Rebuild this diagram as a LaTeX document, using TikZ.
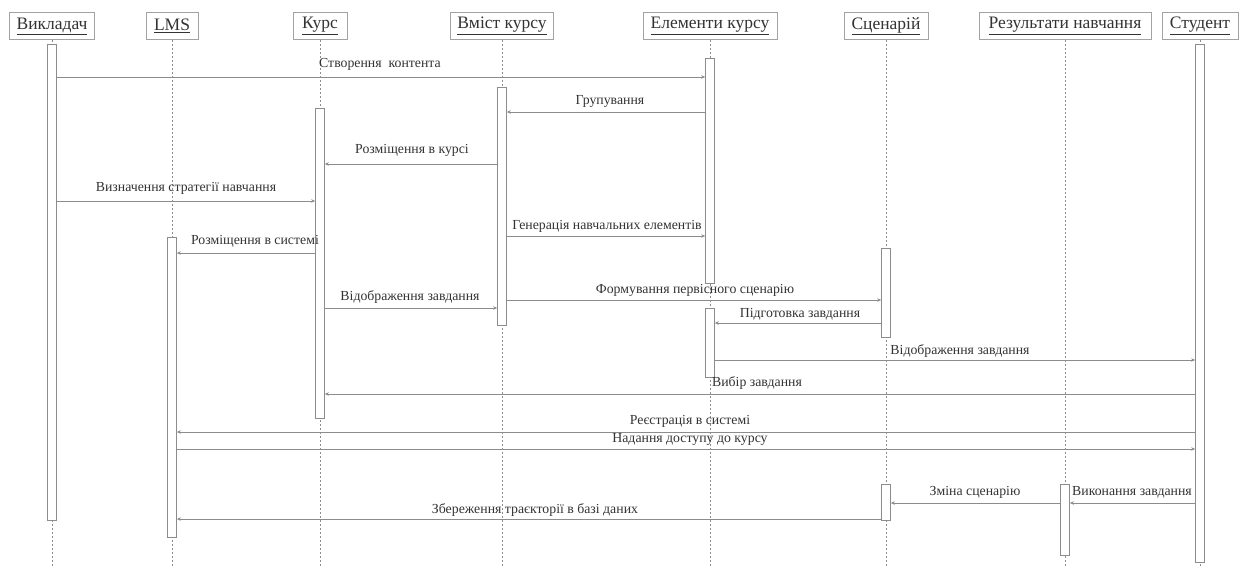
\documentclass[tikz,border=0pt]{standalone}
\usepackage{fontspec}
\setmainfont{Liberation Serif}
\usetikzlibrary{arrows.meta}
\definecolor{lncol}{HTML}{8C8C8C}
\definecolor{txcol}{HTML}{333333}
\tikzset{
  hdr/.style={draw=lncol!80, line width=0.6pt, inner xsep=3pt, minimum height=27pt, font=\fontsize{17.5}{19}\selectfont, text=txcol},
  life/.style={draw=lncol, dash pattern=on 2pt off 2pt, line width=0.5pt},
  actbox/.style={draw=lncol, fill=white, line width=0.7pt, minimum width=9pt, inner sep=0pt},
  msg/.style={draw=lncol, line width=0.8pt, -{Stealth[length=4pt,width=3.5pt]}},
  lbl/.style={font=\fontsize{13.8}{15}\selectfont, text=txcol, inner sep=1pt}
}
\begin{document}
\begin{tikzpicture}[x=1pt,y=-1pt]
\useasboundingbox[fill=white] (0,0) rectangle (1240,566);
% headers
\node[hdr, minimum width=85pt] (hvk) at (52,26) {\underline{Викладач}};
\node[hdr, minimum width=52pt] (hlms) at (172,26) {\underline{LMS}};
\node[hdr, minimum width=54pt] (hku) at (320,26) {\underline{Курс}};
\node[hdr, minimum width=103pt] (hvm) at (502,26) {\underline{Вміст курсу}};
\node[hdr, minimum width=134pt] (hel) at (710,26) {\underline{Елементи курсу}};
\node[hdr, minimum width=84pt] (hsc) at (886,26) {\underline{Сценарій}};
\node[hdr, minimum width=172pt] (hrn) at (1065,26) {\underline{Результати навчання}};
\node[hdr, minimum width=76pt] (hst) at (1200,26) {\underline{Студент}};
% lifeline ends
\coordinate (evk) at (52,566);
\coordinate (elms) at (172,566);
\coordinate (eku) at (320,566);
\coordinate (evm) at (502,566);
\coordinate (eel) at (710,566);
\coordinate (esc) at (886,566);
\coordinate (ern) at (1065,566);
\coordinate (est) at (1200,566);
\draw[life] (hvk.south) -- (evk);
\draw[life] (hlms.south) -- (elms);
\draw[life] (hku.south) -- (eku);
\draw[life] (hvm.south) -- (evm);
\draw[life] (hel.south) -- (eel);
\draw[life] (hsc.south) -- (esc);
\draw[life] (hrn.south) -- (ern);
\draw[life] (hst.south) -- (est);
% activation bars
\node[actbox, minimum height=476pt] (vkA) at (52,282) {};
\node[actbox, minimum height=300pt] (lmsA) at (172,387) {};
\node[actbox, minimum height=310pt] (kuA) at (320,263) {};
\node[actbox, minimum height=238pt] (vmA) at (502,206) {};
\node[actbox, minimum height=225pt] (elA) at (710,170.5) {};
\node[actbox, minimum height=69pt] (elB) at (710,342.5) {};
\node[actbox, minimum height=89pt] (scA) at (886,292.5) {};
\node[actbox, minimum height=36pt] (scB) at (886,502) {};
\node[actbox, minimum height=71pt] (rnA) at (1065,519.5) {};
\node[actbox, minimum height=518pt] (stA) at (1200,303) {};
% messages
\draw[msg] (vkA.east |- 0,77) -- (elA.west |- 0,77);
\node[lbl] (l1) at (380,64) {Створення\ \ контента};
\draw[msg] (elA.west |- 0,112) -- (vmA.east |- 0,112);
\node[lbl] (l2) at (610,101) {Групування};
\draw[msg] (vmA.west |- 0,164) -- (kuA.east |- 0,164);
\node[lbl] (l3) at (412,150) {Розміщення в курсі};
\draw[msg] (vkA.east |- 0,201) -- (kuA.west |- 0,201);
\node[lbl] (l4) at (186,188) {Визначення стратегії навчання};
\draw[msg] (vmA.east |- 0,236) -- (elA.west |- 0,236);
\node[lbl] (l5) at (607,226) {Генерація навчальних елементів};
\draw[msg] (kuA.west |- 0,253) -- (lmsA.east |- 0,253);
\node[lbl] (l6) at (255,241) {Розміщення в системі};
\draw[msg] (kuA.east |- 0,308) -- (vmA.west |- 0,308);
\node[lbl] (l7) at (410,297) {Відображення завдання};
\draw[msg] (vmA.east |- 0,300) -- (scA.west |- 0,300);
\node[lbl] (l8) at (695,290) {Формування первісного сценарію};
\draw[msg] (scA.west |- 0,323) -- (elB.east |- 0,323);
\node[lbl] (l9) at (800,314) {Підготовка завдання};
\draw[msg] (elB.east |- 0,360) -- (stA.west |- 0,360);
\node[lbl] (l10) at (960,351) {Відображення завдання};
\draw[msg] (stA.west |- 0,394) -- (kuA.east |- 0,394);
\node[lbl] (l11) at (757,383) {Вибір завдання};
\draw[msg] (stA.west |- 0,432) -- (lmsA.east |- 0,432);
\node[lbl] (l12) at (690,421) {Реєстрація в системі};
\draw[msg] (lmsA.east |- 0,449) -- (stA.west |- 0,449);
\node[lbl] (l13) at (690,439) {Надання доступу до курсу};
\draw[msg] (stA.west |- 0,503) -- (rnA.east |- 0,503);
\node[lbl] (l14) at (1132,492) {Виконання завдання};
\draw[msg] (rnA.west |- 0,503) -- (scB.east |- 0,503);
\node[lbl] (l15) at (975,492) {Зміна сценарію};
\draw[msg] (scB.west |- 0,519) -- (lmsA.east |- 0,519);
\node[lbl] (l16) at (535,510) {Збереження траєкторії в базі даних};
\end{tikzpicture}
\end{document}
